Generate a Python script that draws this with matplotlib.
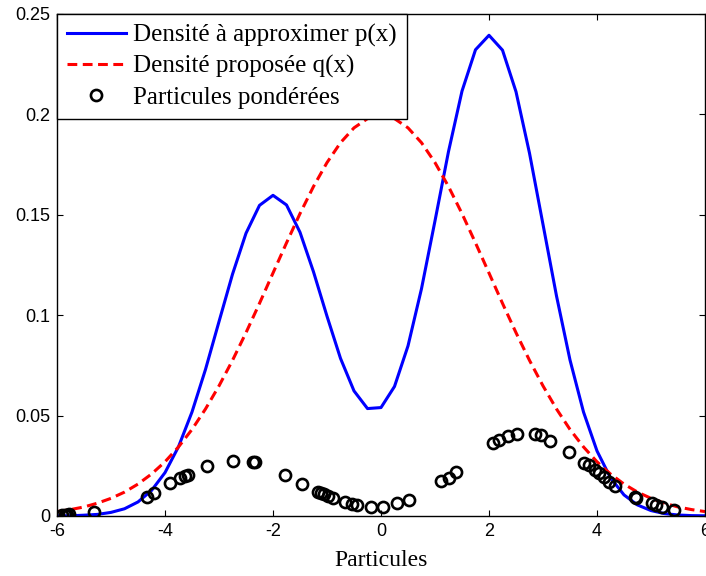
import numpy as np
import matplotlib.pyplot as plt

plt.rcParams['axes.unicode_minus'] = False

# Grille en x (pas de 0.25)
xGrid = np.linspace(-6, 6, 49)

# Densité à approximer p(x)
pVals = [0.0001, 0.0001, 0.0004, 0.0008, 0.0018, 0.0036, 0.0070, 0.0127,
         0.0216, 0.0345, 0.0518, 0.0730, 0.0968, 0.1204, 0.1408, 0.1547,
         0.1597, 0.1549, 0.1413, 0.1216, 0.0995, 0.0785, 0.0623, 0.0535,
         0.0540, 0.0645, 0.0847, 0.1132, 0.1470, 0.1815, 0.2116, 0.2322,
         0.2394, 0.2320, 0.2113, 0.1807, 0.1452, 0.1096, 0.0777, 0.0518,
         0.0324, 0.0190, 0.0105, 0.0055, 0.0027, 0.0012, 0.0005, 0.0002,
         0.0001]

# Densité proposée q(x)
qVals = [0.0022, 0.0032, 0.0045, 0.0064, 0.0088, 0.0119, 0.0159, 0.0209,
         0.0270, 0.0344, 0.0431, 0.0533, 0.0648, 0.0775, 0.0913, 0.1059,
         0.1210, 0.1360, 0.1506, 0.1641, 0.1760, 0.1859, 0.1933, 0.1979,
         0.1995, 0.1979, 0.1933, 0.1859, 0.1760, 0.1641, 0.1506, 0.1360,
         0.1210, 0.1059, 0.0913, 0.0775, 0.0648, 0.0533, 0.0431, 0.0344,
         0.0270, 0.0209, 0.0159, 0.0119, 0.0088, 0.0064, 0.0045, 0.0032,
         0.0022]

# Particules pondérées
partX = [-5.90, -5.86, -5.82, -5.78, -5.31, -4.34, -4.20, -3.91, -3.72,
         -3.63, -3.57, -3.23, -2.74, -2.37, -2.34, -1.78, -1.47, -1.17,
         -1.12, -1.06, -0.98, -0.88, -0.67, -0.54, -0.45, -0.19, 0.03,
         0.29, 0.52, 1.12, 1.25, 1.39, 2.07, 2.19, 2.36, 2.51, 2.85, 2.97,
         3.13, 3.49, 3.75, 3.86, 3.96, 4.04, 4.13, 4.23, 4.33, 4.70, 4.72,
         5.01, 5.09, 5.20, 5.43]
partW = [0.0005, 0.0006, 0.0007, 0.0008, 0.0020, 0.0096, 0.0113, 0.0163,
         0.0188, 0.0199, 0.0204, 0.0249, 0.0276, 0.0269, 0.0267, 0.0204,
         0.0159, 0.0120, 0.0115, 0.0108, 0.0100, 0.0088, 0.0071, 0.0062,
         0.0054, 0.0043, 0.0043, 0.0063, 0.0080, 0.0174, 0.0188, 0.0220,
         0.0365, 0.0378, 0.0398, 0.0408, 0.0408, 0.0403, 0.0375, 0.0320,
         0.0262, 0.0254, 0.0229, 0.0212, 0.0196, 0.0171, 0.0149, 0.0093,
         0.0090, 0.0063, 0.0055, 0.0046, 0.0030]

fig = plt.figure(figsize=(7.06, 5.76), dpi=100)
ax = fig.add_axes([57 / 706, 60 / 576, 648 / 706, 502 / 576])

ax.plot(xGrid, pVals, color='blue', lw=2.2, label='Densité à approximer p(x)')
ax.plot(xGrid, qVals, color='red', lw=2.2, ls=(0, (3.2, 1.8)), label='Densité proposée q(x)')
ax.plot(partX, partW, 'o', mfc='none', mec='black', ms=8, mew=1.9,
        label='Particules pondérées')

ax.set_xlim(-6, 6)
ax.set_ylim(0, 0.25)
ax.set_xticks([-6, -4, -2, 0, 2, 4, 6])
ax.set_yticks([0, 0.05, 0.1, 0.15, 0.2, 0.25])
ax.set_yticklabels(['0', '0.05', '0.1', '0.15', '0.2', '0.25'])
ax.tick_params(direction='in', top=True, right=True, length=4, width=0.8,
               labelsize=13, pad=5)
for lab in ax.get_xticklabels() + ax.get_yticklabels():
    lab.set_family('Liberation Sans')
for s in ax.spines.values():
    s.set_linewidth(1.0)

ax.set_xlabel('Particules', family='Liberation Serif', fontsize=17, labelpad=7)

leg = ax.legend(loc='upper left', borderaxespad=0, fancybox=False, framealpha=1,
                edgecolor='black', prop={'family': 'Liberation Serif', 'size': 18},
                handlelength=2.35, handletextpad=0.3, labelspacing=0.33,
                borderpad=0.4, numpoints=1)
leg.get_frame().set_linewidth(1.0)

fig.savefig('out.png', dpi=100)
